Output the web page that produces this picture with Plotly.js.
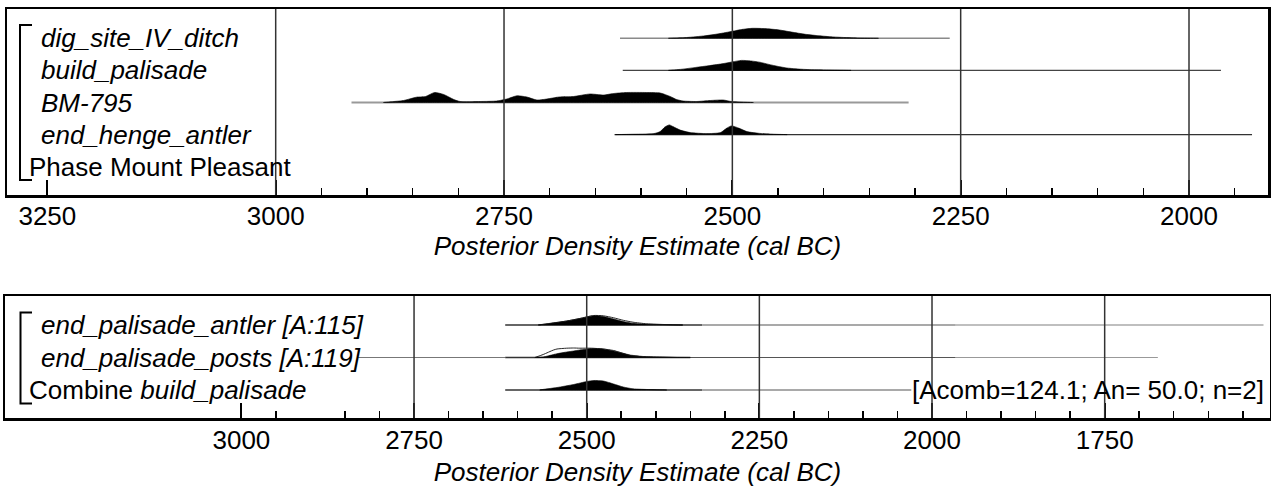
<!DOCTYPE html>
<html>
<head>
<meta charset="utf-8">
<script src="https://cdn.plot.ly/plotly-3.0.1.min.js"></script>
<style>
  html, body { margin: 0; padding: 0; background: #fff; }
  #chart { width: 1271px; height: 488px; }
</style>
</head>
<body>
<div id="chart"></div>
<script>
// ---------------- DATA ----------------
// Top panel (Phase Mount Pleasant)
const topLabels = ['dig_site_IV_ditch', 'build_palisade', 'BM-795', 'end_henge_antler'];
const topGroupLabel = 'Phase Mount Pleasant';
const topTickVals = [3250, 3000, 2750, 2500, 2250, 2000];
const topMinorTicks = [2950, 2900, 2850, 2800, 2700, 2650, 2600, 2550, 2450, 2400, 2350, 2300,
                       2200, 2150, 2100, 2050, 1950];
const topGridYears = [3000, 2750, 2500, 2250, 2000];

const digYears = [2570, 2550, 2530, 2515, 2500, 2490, 2478, 2465, 2450, 2435, 2420, 2405, 2390, 2375, 2360, 2340];
const digDens  = [0, 0.08, 0.25, 0.45, 0.70, 0.88, 1.00, 0.97, 0.85, 0.62, 0.40, 0.25, 0.14, 0.07, 0.02, 0];
const digRange = [2623, 2262];

const buildYears = [2570, 2555, 2540, 2525, 2510, 2500, 2490, 2480, 2470, 2460, 2450, 2440, 2425, 2410, 2390, 2370];
const buildDens  = [0, 0.12, 0.30, 0.48, 0.68, 0.85, 1.00, 0.95, 0.82, 0.60, 0.40, 0.24, 0.12, 0.06, 0.03, 0];
const buildRange = [2620, 1965];

const bmYears = [2882, 2860, 2846, 2836, 2826, 2816, 2805, 2798, 2776, 2758, 2747, 2736, 2725, 2714, 2703,
                 2690, 2674, 2656, 2641, 2630, 2616, 2594, 2579, 2568, 2561, 2554, 2539, 2524, 2510, 2501, 2477];
const bmDens  = [0, 0.20, 0.53, 0.60, 1.00, 0.80, 0.30, 0.10, 0.10, 0.15, 0.35, 0.67, 0.55, 0.25, 0.35,
                 0.55, 0.60, 0.85, 0.75, 0.90, 1.00, 1.00, 0.95, 0.60, 0.30, 0.15, 0.10, 0.20, 0.25, 0.10, 0];
const bmRange = [2917, 2307];

const henYears = [2628, 2612, 2586, 2579, 2574, 2569, 2565, 2557, 2546, 2528, 2513, 2506, 2501, 2493, 2484, 2470, 2455, 2440];
const henDens  = [0, 0.03, 0.10, 0.30, 0.75, 0.97, 0.80, 0.45, 0.20, 0.10, 0.20, 0.65, 0.87, 0.65, 0.30, 0.12, 0.04, 0];
const henRange = [2629, 1931];

// Bottom panel (Combine build_palisade)
const botLabels = ['end_palisade_antler [A:115]', 'end_palisade_posts [A:119]'];
const botGroupLabel = 'Combine <i>build_palisade</i>';
const botStats = '[Acomb=124.1; An= 50.0; n=2]';
const botTickVals = [3000, 2750, 2500, 2250, 2000, 1750];
const botMinorTicks = [2950, 2850, 2800, 2700, 2650, 2600, 2550, 2450, 2400, 2350, 2300,
                       2200, 2150, 2100, 2050, 1950, 1900, 1850, 1800, 1700, 1650, 1600, 1550];
const botGridYears = [2750, 2500, 2250, 2000, 1750];

const antYears = [2570, 2553, 2529, 2510, 2490, 2476, 2461, 2447, 2433, 2413, 2384, 2361];
const antDens  = [0, 0.17, 0.40, 0.65, 0.93, 0.85, 0.60, 0.35, 0.17, 0.08, 0.03, 0];
const antPrior = [0, 0.15, 0.40, 0.65, 0.95, 0.92, 0.72, 0.47, 0.28, 0.12, 0.04, 0];
const antRangeDark = [2618, 2333];
const antRangeMid = [2333, 1966];
const antRangeLight = [1966, 1520];

const postYears = [2575, 2563, 2548, 2543, 2529, 2519, 2510, 2493, 2476, 2461, 2457, 2437, 2418, 2413, 2384, 2370, 2350];
const postDens  = [0, 0.05, 0.30, 0.38, 0.55, 0.65, 0.75, 0.90, 0.85, 0.65, 0.60, 0.25, 0.10, 0.08, 0.03, 0.01, 0];
const postPrior = [0, 0.30, 0.75, 0.85, 0.93, 0.95, 0.93, 0.93, 0.85, 0.70, 0.62, 0.20, 0.07, 0.06, 0.02, 0, 0];
const postRangeLeft = [2831, 2618];
const postRangeDark = [2618, 2350];
const postRangeMid = [2350, 1966];
const postRangeLight = [1966, 1673];

const combYears = [2568, 2543, 2519, 2500, 2490, 2476, 2461, 2447, 2433, 2408, 2384];
const combDens  = [0, 0.25, 0.55, 0.85, 0.95, 0.90, 0.60, 0.30, 0.12, 0.04, 0];
const combRangeDark = [2618, 2333];
const combRangeMid = [2333, 2030];

// ---------------- LAYOUT HELPERS ----------------
const W = 1271, H = 488, ML = 5, MR = 1;
const PW = W - ML - MR;
const FONT = 'Liberation Sans, Arial, Helvetica, sans-serif';
const px = v => (v - ML) / PW;          // pixel x -> paper x
const py = v => 1 - v / H;              // pixel y -> paper y

const hTop = 10 / 32.1, hBot = 10 / 32.5;

const traces = [];
function rangeLine(r, base, xa, ya, color, width) {
  traces.push({x: r, y: [base, base], xaxis: xa, yaxis: ya, mode: 'lines',
    line: {color: color, width: width}, hoverinfo: 'skip', showlegend: false});
}
function fillDist(years, dens, base, h, xa, ya) {
  traces.push({
    x: years.concat(years.slice().reverse()),
    y: dens.map(d => base + h * d).concat(years.map(() => base)),
    xaxis: xa, yaxis: ya, mode: 'lines', fill: 'toself', fillcolor: '#000',
    line: {color: '#000', width: 0.6, shape: 'spline', smoothing: 0.6},
    hoverinfo: 'skip', showlegend: false
  });
}
function outline(years, dens, base, h, xa, ya) {
  traces.push({x: years, y: dens.map(d => base + h * d), xaxis: xa, yaxis: ya, mode: 'lines',
    line: {color: '#111', width: 0.9, shape: 'spline', smoothing: 0.6}, hoverinfo: 'skip', showlegend: false});
}

// top rows: base = -index
rangeLine(digRange, 0, 'x', 'y', '#8a8a8a', 1.6);
rangeLine(buildRange, -1, 'x', 'y', '#444', 1.1);
rangeLine(bmRange, -2, 'x', 'y', '#999', 2);
rangeLine(henRange, -3, 'x', 'y', '#333', 1.1);
fillDist(digYears, digDens, 0, hTop, 'x', 'y');
fillDist(buildYears, buildDens, -1, hTop, 'x', 'y');
fillDist(bmYears, bmDens, -2, hTop, 'x', 'y');
fillDist(henYears, henDens, -3, hTop, 'x', 'y');

// bottom rows
rangeLine(antRangeLight, 0, 'x2', 'y2', '#aaa', 1.3);
rangeLine(antRangeMid, 0, 'x2', 'y2', '#555', 1.1);
rangeLine(antRangeDark, 0, 'x2', 'y2', '#333', 1.6);
rangeLine(postRangeLeft, -1, 'x2', 'y2', '#777', 1);
rangeLine(postRangeLight, -1, 'x2', 'y2', '#999', 1.1);
rangeLine(postRangeMid, -1, 'x2', 'y2', '#555', 1.1);
rangeLine(postRangeDark, -1, 'x2', 'y2', '#333', 1.6);
rangeLine(combRangeMid, -2, 'x2', 'y2', '#555', 1.1);
rangeLine(combRangeDark, -2, 'x2', 'y2', '#333', 1.6);
fillDist(antYears, antDens, 0, hBot, 'x2', 'y2');
fillDist(postYears, postDens, -1, hBot, 'x2', 'y2');
fillDist(combYears, combDens, -2, hBot, 'x2', 'y2');
outline(antYears, antPrior, 0, hBot, 'x2', 'y2');
outline(postYears, postPrior, -1, hBot, 'x2', 'y2');

// ---------------- SHAPES ----------------
const shapes = [];
topGridYears.forEach(yr => shapes.push({type: 'line', xref: 'x', yref: 'y domain', x0: yr, x1: yr, y0: 0, y1: 1,
  line: {color: '#333', width: 1.5}, layer: 'above'}));
botGridYears.forEach(yr => shapes.push({type: 'line', xref: 'x2', yref: 'y2 domain', x0: yr, x1: yr, y0: 0, y1: 1,
  line: {color: '#333', width: 1.5}, layer: 'above'}));
function bracket(x, y0, y1, x1) {
  shapes.push({type: 'path', xref: 'paper', yref: 'paper',
    path: `M ${px(x1)} ${py(y0)} L ${px(x)} ${py(y0)} L ${px(x)} ${py(y1)} L ${px(x1)} ${py(y1)}`,
    line: {color: '#000', width: 2}});
}
bracket(20, 25, 180, 32);
bracket(20.5, 312.5, 403.5, 32);

// ---------------- ANNOTATIONS ----------------
const annotations = [];
function label(text, xPix, yData, yref, italic) {
  annotations.push({text: text, xref: 'paper', yref: yref, x: px(xPix), y: yData,
    xanchor: 'left', yanchor: 'middle', showarrow: false,
    font: {family: FONT, size: 26, color: '#000', style: italic ? 'italic' : 'normal'}});
}
topLabels.forEach((t, i) => label(t, 39, -i, 'y', true));
label(topGroupLabel, 27, -4, 'y', false);
botLabels.forEach((t, i) => label(t, 39, -i, 'y2', true));
label(botGroupLabel, 27, -2, 'y2', false);
annotations.push({text: botStats, xref: 'paper', yref: 'y2', x: px(1266), y: -2,
  xanchor: 'right', yanchor: 'middle', showarrow: false,
  font: {family: FONT, size: 26, color: '#000'}});

// ---------------- AXES ----------------
function xAxis(domain, range, tickvals, minor, anchor, labelShift, titleStandoff) {
  return {
    domain: domain, range: range, anchor: anchor,
    tickmode: 'array', tickvals: tickvals, ticktext: tickvals.map(String),
    ticks: 'inside', ticklen: 15, tickwidth: 2, tickcolor: '#000',
    ticklabelstandoff: labelShift,
    minor: {tickmode: 'array', tickvals: minor, ticks: 'inside', ticklen: 7, tickwidth: 1.5, tickcolor: '#000'},
    tickfont: {family: FONT, size: 26, color: '#000'},
    showline: true, linecolor: '#000', linewidth: 2.5, mirror: true,
    showgrid: false, zeroline: false, fixedrange: true,
    title: {text: 'Posterior Density Estimate (cal BC)', standoff: titleStandoff,
            font: {family: FONT, size: 26, color: '#000', style: 'italic'}}
  };
}
function yAxis(domain, range, anchor) {
  return {domain: domain, range: range, anchor: anchor, showline: true, linecolor: '#000', linewidth: 2.5,
    mirror: true, showticklabels: false, ticks: '', showgrid: false, zeroline: false, fixedrange: true};
}

const layout = {
  width: W, height: H,
  margin: {l: ML, r: MR, t: 0, b: 0, pad: 0},
  paper_bgcolor: '#fff', plot_bgcolor: '#fff',
  showlegend: false,
  xaxis: xAxis([px(7), px(1268)], [3294.2, 1913.5], topTickVals, topMinorTicks, 'y', -4, 2),
  yaxis: yAxis([py(195), py(9)], [-4.8816, 0.9128], 'x'),
  xaxis2: xAxis([0, 1], [3342.3, 1510.6], botTickVals, botMinorTicks, 'y2', -3, 9),
  yaxis2: yAxis([py(418), py(296)], [-2.8615, 0.8923], 'x2'),
  shapes: shapes,
  annotations: annotations
};

Plotly.newPlot('chart', traces, layout, {staticPlot: true, displayModeBar: false});
</script>
</body>
</html>
